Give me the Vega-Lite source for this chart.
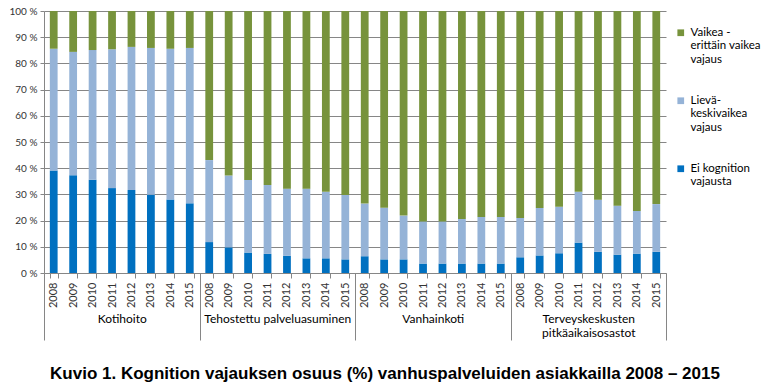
{
  "$schema": "https://vega.github.io/schema/vega-lite/v6.json",
  "width": 622,
  "height": 262,
  "autosize": {"type": "none"},
  "padding": {"left": 44, "top": 11, "right": 103, "bottom": 115},
  "background": "white",
  "config": {"font": "Lato", "view": {"stroke": null}},
  "title": {
    "text": "Kuvio 1. Kognition vajauksen osuus (%) vanhuspalveluiden asiakkailla 2008 – 2015",
    "orient": "bottom",
    "font": "Liberation Sans",
    "fontSize": 17,
    "fontWeight": "bold",
    "color": "#000000",
    "anchor": "middle",
    "frame": "bounds",
    "offset": 25
  },
  "data": {
    "values": [
      {"group": "Kotihoito", "year": "2008", "Ei kognition vajausta": 39.1, "Lievä-keskivaikea vajaus": 46.5, "Vaikea - erittäin vaikea vajaus": 14.4},
      {"group": "Kotihoito", "year": "2009", "Ei kognition vajausta": 37.3, "Lievä-keskivaikea vajaus": 47.1, "Vaikea - erittäin vaikea vajaus": 15.6},
      {"group": "Kotihoito", "year": "2010", "Ei kognition vajausta": 35.6, "Lievä-keskivaikea vajaus": 49.5, "Vaikea - erittäin vaikea vajaus": 14.9},
      {"group": "Kotihoito", "year": "2011", "Ei kognition vajausta": 32.4, "Lievä-keskivaikea vajaus": 53.0, "Vaikea - erittäin vaikea vajaus": 14.6},
      {"group": "Kotihoito", "year": "2012", "Ei kognition vajausta": 31.7, "Lievä-keskivaikea vajaus": 54.6, "Vaikea - erittäin vaikea vajaus": 13.7},
      {"group": "Kotihoito", "year": "2013", "Ei kognition vajausta": 29.9, "Lievä-keskivaikea vajaus": 56.0, "Vaikea - erittäin vaikea vajaus": 14.1},
      {"group": "Kotihoito", "year": "2014", "Ei kognition vajausta": 28.1, "Lievä-keskivaikea vajaus": 57.5, "Vaikea - erittäin vaikea vajaus": 14.4},
      {"group": "Kotihoito", "year": "2015", "Ei kognition vajausta": 26.6, "Lievä-keskivaikea vajaus": 59.3, "Vaikea - erittäin vaikea vajaus": 14.1},
      {"group": "Tehostettu palveluasuminen", "year": "2008", "Ei kognition vajausta": 11.8, "Lievä-keskivaikea vajaus": 31.3, "Vaikea - erittäin vaikea vajaus": 56.9},
      {"group": "Tehostettu palveluasuminen", "year": "2009", "Ei kognition vajausta": 9.8, "Lievä-keskivaikea vajaus": 27.4, "Vaikea - erittäin vaikea vajaus": 62.8},
      {"group": "Tehostettu palveluasuminen", "year": "2010", "Ei kognition vajausta": 7.8, "Lievä-keskivaikea vajaus": 27.7, "Vaikea - erittäin vaikea vajaus": 64.5},
      {"group": "Tehostettu palveluasuminen", "year": "2011", "Ei kognition vajausta": 7.3, "Lievä-keskivaikea vajaus": 26.3, "Vaikea - erittäin vaikea vajaus": 66.4},
      {"group": "Tehostettu palveluasuminen", "year": "2012", "Ei kognition vajausta": 6.6, "Lievä-keskivaikea vajaus": 25.6, "Vaikea - erittäin vaikea vajaus": 67.8},
      {"group": "Tehostettu palveluasuminen", "year": "2013", "Ei kognition vajausta": 5.6, "Lievä-keskivaikea vajaus": 26.6, "Vaikea - erittäin vaikea vajaus": 67.8},
      {"group": "Tehostettu palveluasuminen", "year": "2014", "Ei kognition vajausta": 5.6, "Lievä-keskivaikea vajaus": 25.4, "Vaikea - erittäin vaikea vajaus": 69.0},
      {"group": "Tehostettu palveluasuminen", "year": "2015", "Ei kognition vajausta": 5.2, "Lievä-keskivaikea vajaus": 24.6, "Vaikea - erittäin vaikea vajaus": 70.2},
      {"group": "Vanhainkoti", "year": "2008", "Ei kognition vajausta": 6.4, "Lievä-keskivaikea vajaus": 20.1, "Vaikea - erittäin vaikea vajaus": 73.5},
      {"group": "Vanhainkoti", "year": "2009", "Ei kognition vajausta": 5.2, "Lievä-keskivaikea vajaus": 19.7, "Vaikea - erittäin vaikea vajaus": 75.1},
      {"group": "Vanhainkoti", "year": "2010", "Ei kognition vajausta": 5.2, "Lievä-keskivaikea vajaus": 16.7, "Vaikea - erittäin vaikea vajaus": 78.1},
      {"group": "Vanhainkoti", "year": "2011", "Ei kognition vajausta": 3.6, "Lievä-keskivaikea vajaus": 16.1, "Vaikea - erittäin vaikea vajaus": 80.3},
      {"group": "Vanhainkoti", "year": "2012", "Ei kognition vajausta": 3.6, "Lievä-keskivaikea vajaus": 16.1, "Vaikea - erittäin vaikea vajaus": 80.3},
      {"group": "Vanhainkoti", "year": "2013", "Ei kognition vajausta": 3.6, "Lievä-keskivaikea vajaus": 17.0, "Vaikea - erittäin vaikea vajaus": 79.4},
      {"group": "Vanhainkoti", "year": "2014", "Ei kognition vajausta": 3.6, "Lievä-keskivaikea vajaus": 17.8, "Vaikea - erittäin vaikea vajaus": 78.6},
      {"group": "Vanhainkoti", "year": "2015", "Ei kognition vajausta": 3.6, "Lievä-keskivaikea vajaus": 17.8, "Vaikea - erittäin vaikea vajaus": 78.6},
      {"group": "Terveyskeskusten pitkäaikaisosastot", "year": "2008", "Ei kognition vajausta": 6.0, "Lievä-keskivaikea vajaus": 15.0, "Vaikea - erittäin vaikea vajaus": 79.0},
      {"group": "Terveyskeskusten pitkäaikaisosastot", "year": "2009", "Ei kognition vajausta": 6.7, "Lievä-keskivaikea vajaus": 18.1, "Vaikea - erittäin vaikea vajaus": 75.2},
      {"group": "Terveyskeskusten pitkäaikaisosastot", "year": "2010", "Ei kognition vajausta": 7.5, "Lievä-keskivaikea vajaus": 17.8, "Vaikea - erittäin vaikea vajaus": 74.7},
      {"group": "Terveyskeskusten pitkäaikaisosastot", "year": "2011", "Ei kognition vajausta": 11.6, "Lievä-keskivaikea vajaus": 19.4, "Vaikea - erittäin vaikea vajaus": 69.0},
      {"group": "Terveyskeskusten pitkäaikaisosastot", "year": "2012", "Ei kognition vajausta": 8.1, "Lievä-keskivaikea vajaus": 19.9, "Vaikea - erittäin vaikea vajaus": 72.0},
      {"group": "Terveyskeskusten pitkäaikaisosastot", "year": "2013", "Ei kognition vajausta": 7.0, "Lievä-keskivaikea vajaus": 18.7, "Vaikea - erittäin vaikea vajaus": 74.3},
      {"group": "Terveyskeskusten pitkäaikaisosastot", "year": "2014", "Ei kognition vajausta": 7.4, "Lievä-keskivaikea vajaus": 16.3, "Vaikea - erittäin vaikea vajaus": 76.3},
      {"group": "Terveyskeskusten pitkäaikaisosastot", "year": "2015", "Ei kognition vajausta": 8.1, "Lievä-keskivaikea vajaus": 18.2, "Vaikea - erittäin vaikea vajaus": 73.7}
    ]
  },
  "transform": [
    {"fold": ["Ei kognition vajausta", "Lievä-keskivaikea vajaus", "Vaikea - erittäin vaikea vajaus"], "as": ["category", "value"]},
    {"calculate": "datum.group + '|' + datum.year", "as": "key"}
  ],
  "layer": [
    {
      "mark": {"type": "bar"},
      "encoding": {
        "x": {
          "field": "key", "type": "nominal", "sort": null,
          "scale": {"paddingInner": 0.6, "paddingOuter": 0.3},
          "axis": {
            "title": null, "labelExpr": "split(datum.value, '|')[1]", "labelAngle": -90,
            "tickBand": "extent", "tickSize": 5, "domainColor": "#868686", "tickColor": "#868686",
            "labelFontSize": 11, "labelColor": "#333333", "labelPadding": 4, "grid": false
          }
        },
        "y": {
          "field": "value", "type": "quantitative", "stack": "zero",
          "scale": {"domain": [0, 100]},
          "axis": {
            "title": null, "values": [0, 10, 20, 30, 40, 50, 60, 70, 80, 90, 100],
            "labelExpr": "datum.value + ' %'", "grid": true, "gridColor": "#868686",
            "domainColor": "#868686", "tickColor": "#868686", "tickSize": 4,
            "labelFontSize": 10, "labelColor": "#333333", "labelPadding": 3
          }
        },
        "color": {
          "field": "category", "type": "nominal",
          "scale": {
            "domain": ["Vaikea - erittäin vaikea vajaus", "Lievä-keskivaikea vajaus", "Ei kognition vajausta"],
            "range": ["#77933C", "#95B3D7", "#0070C0"]
          },
          "legend": {
            "title": null, "orient": "none", "legendX": 631, "legendY": 16, "padding": 0,
            "symbolType": "square", "symbolSize": 45, "symbolStrokeWidth": 0,
            "labelFontSize": 11.5, "labelColor": "#000000", "labelLimit": 200, "rowPadding": 28,
            "labelExpr": "datum.value == 'Vaikea - erittäin vaikea vajaus' ? ['Vaikea -', 'erittäin vaikea', 'vajaus'] : datum.value == 'Lievä-keskivaikea vajaus' ? ['Lievä-', 'keskivaikea', 'vajaus'] : ['Ei kognition', 'vajausta']"
          }
        },
        "order": {"field": "category", "sort": "ascending"}
      }
    },
    {
      "mark": {"type": "rule", "opacity": 0},
      "encoding": {
        "x": {
          "field": "group", "type": "nominal", "sort": null,
          "scale": {"paddingInner": 0, "paddingOuter": 0},
          "axis": {
            "orient": "bottom", "title": null, "tickBand": "extent", "tickSize": 67,
            "domain": false, "labelAngle": 0, "labelPadding": -27, "labelBaseline": "top",
            "labelFontSize": 12, "labelColor": "#000000", "tickColor": "#868686",
            "labelLimit": 300,
            "labelExpr": "datum.value == 'Terveyskeskusten pitkäaikaisosastot' ? ['Terveyskeskusten', 'pitkäaikaisosastot'] : datum.value"
          }
        }
      }
    }
  ],
  "resolve": {"scale": {"x": "independent"}, "axis": {"x": "independent"}}
}
